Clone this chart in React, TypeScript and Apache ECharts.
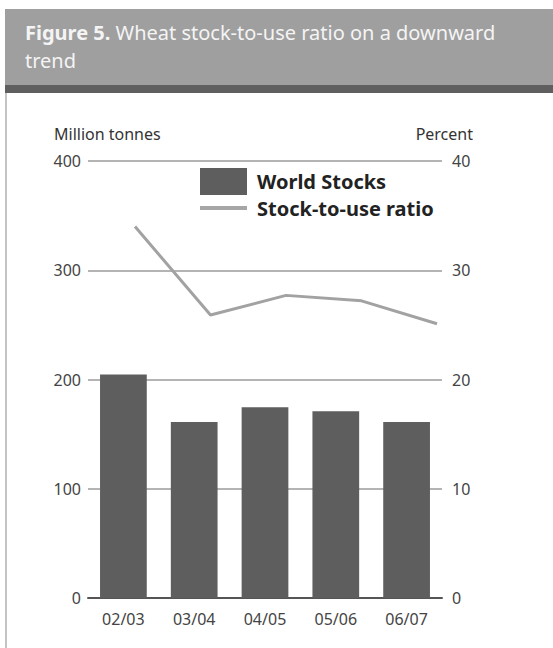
import React, { useEffect, useRef } from "react";
import * as echarts from "echarts";

const categories = ["02/03", "03/04", "04/05", "05/06", "06/07"];
const worldStocks = [204.5, 161, 174.5, 171, 161];
const stockToUse = [34.0, 25.9, 27.7, 27.2, 25.1];
const leftTicks = [0, 100, 200, 300, 400];
const rightTicks = [0, 10, 20, 30, 40];
const titleBold = "Figure 5.";
const titleRest = " Wheat stock-to-use ratio on a downward\ntrend";
const leftAxisName = "Million tonnes";
const rightAxisName = "Percent";
const seriesNames = ["World Stocks", "Stock-to-use ratio"];

const FONT = "'Noto Sans', 'Open Sans', sans-serif";

export default function App() {
  const ref = useRef<HTMLDivElement>(null);
  useEffect(() => {
    if (!ref.current) return;
    const chart = echarts.init(ref.current, null, { renderer: "svg" });
    const gridTop = 161;
    const gridBottom = 50;
    const legendText = { fontSize: 20, fontWeight: "bold", color: "#222", fontFamily: FONT, padding: [0, 0, 0, 5] };
    const option: any = {
      animation: false,
      backgroundColor: "#ffffff",
      textStyle: { fontFamily: FONT },
      graphic: [
        { type: "rect", left: 5, top: 9, shape: { width: 548, height: 76 }, style: { fill: "#9f9f9f" }, z: -1 },
        { type: "rect", left: 5, top: 85, shape: { width: 548, height: 8 }, style: { fill: "#5f5f5f" }, z: -1 },
        { type: "rect", left: 5, top: 93, shape: { width: 2, height: 555 }, style: { fill: "#c4c4c4" }, z: -1 },
        {
          type: "text",
          left: 25,
          top: 18,
          style: {
            text: "{b|" + titleBold + "}" + titleRest,
            rich: {
              b: { fontWeight: "bold", fontSize: 20, fill: "#f4f4f4", fontFamily: FONT, lineHeight: 28 },
            },
            fontSize: 20,
            fill: "#f4f4f4",
            fontFamily: FONT,
            lineHeight: 28,
          },
        },
        {
          type: "text",
          left: 54,
          top: 126,
          style: { text: leftAxisName, fontSize: 16, fill: "#333", fontFamily: FONT },
        },
        {
          type: "text",
          right: 80,
          top: 126,
          style: { text: rightAxisName, fontSize: 16, fill: "#333", fontFamily: FONT, textAlign: "right" },
        },
      ],
      legend: [
        {
          left: 195,
          top: 163,
          itemWidth: 47,
          itemHeight: 27,
          data: [{ name: seriesNames[0], icon: "rect" }],
          textStyle: legendText,
        },
        {
          left: 195,
          top: 193,
          itemWidth: 47,
          itemHeight: 4,
          data: [{ name: seriesNames[1], icon: "rect", itemStyle: { color: "#a6a6a6" } }],
          textStyle: legendText,
        },
      ],
      grid: [
        { left: 88, right: 111, top: gridTop, bottom: gridBottom },
        { left: 135, right: 116, top: gridTop, bottom: gridBottom },
      ],
      xAxis: [
        {
          type: "category",
          gridIndex: 0,
          data: categories,
          boundaryGap: true,
          axisLine: { show: true, lineStyle: { color: "#555", width: 2 } },
          axisTick: { show: true, inside: true, alignWithLabel: true, length: 8, lineStyle: { color: "#8a8a8a", width: 1 } },
          axisLabel: { color: "#444", fontSize: 16, margin: 13, fontFamily: FONT },
        },
        {
          type: "category",
          gridIndex: 1,
          data: categories,
          boundaryGap: false,
          show: false,
        },
      ],
      yAxis: [
        {
          type: "value",
          gridIndex: 0,
          min: 0,
          max: 400,
          interval: 100,
          position: "left",
          axisLine: { show: false },
          axisTick: { show: false },
          axisLabel: { color: "#444", fontSize: 16, margin: 7, fontFamily: FONT },
          splitLine: { show: true, lineStyle: { color: "#b4b4b4", width: 2 } },
        },
        {
          type: "value",
          gridIndex: 0,
          min: 0,
          max: 40,
          interval: 10,
          position: "right",
          axisLine: { show: false },
          axisTick: { show: false },
          axisLabel: { color: "#444", fontSize: 16, margin: 10, fontFamily: FONT },
          splitLine: { show: false },
        },
        {
          type: "value",
          gridIndex: 1,
          min: 0,
          max: 40,
          interval: 10,
          show: false,
          splitLine: { show: false },
        },
      ],
      series: [
        {
          name: seriesNames[0],
          type: "bar",
          xAxisIndex: 0,
          yAxisIndex: 0,
          data: worldStocks,
          barWidth: "66%",
          itemStyle: { color: "#5e5e5e" },
        },
        {
          name: seriesNames[1],
          type: "line",
          xAxisIndex: 1,
          yAxisIndex: 2,
          data: stockToUse,
          symbol: "none",
          lineStyle: { color: "#a2a2a2", width: 3 },
          itemStyle: { color: "#a2a2a2" },
        },
      ],
    };
    chart.setOption(option);
    return () => chart.dispose();
  }, []);
  return (
    <div
      ref={ref}
      style={{ position: "fixed", left: 0, top: 0, width: 553, height: 648 }}
    />
  );
}
